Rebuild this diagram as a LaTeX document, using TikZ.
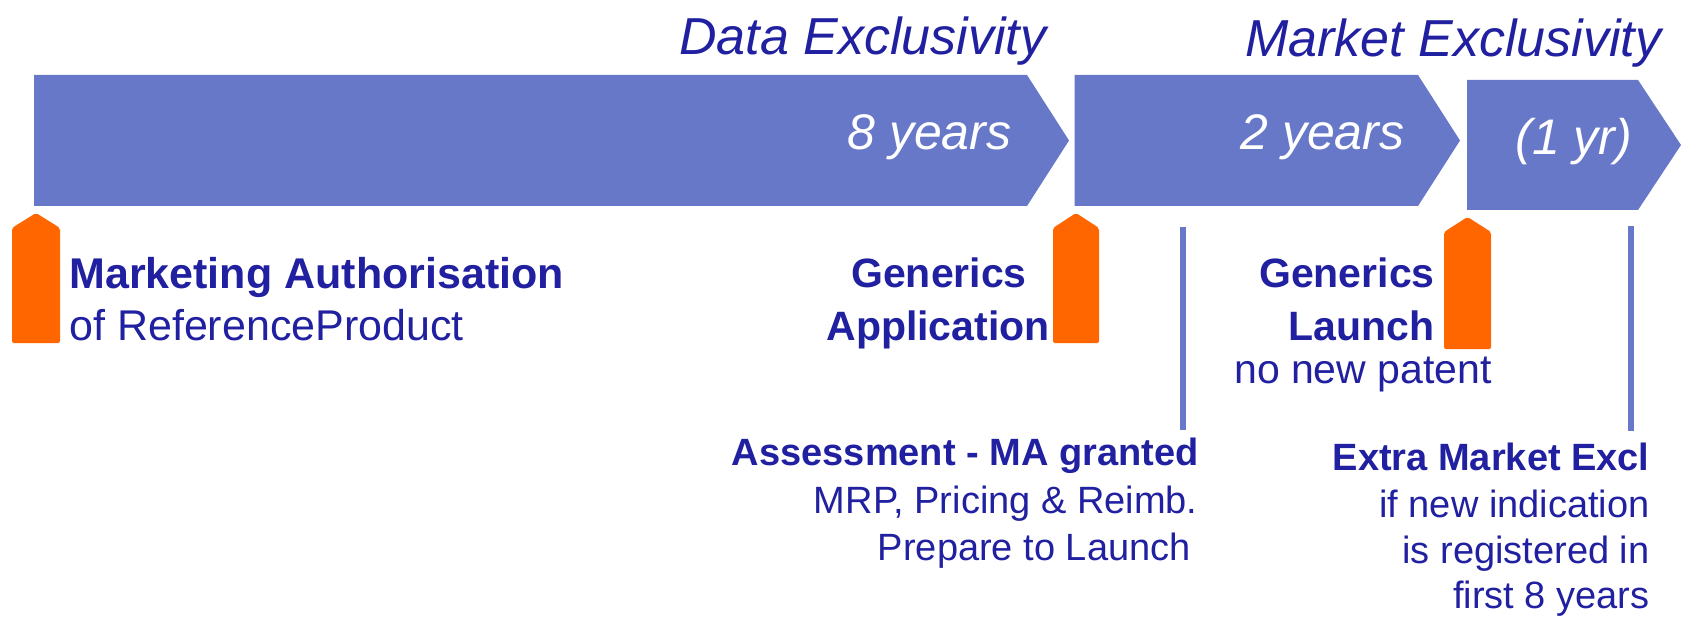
\documentclass[tikz,border=0pt]{standalone}
\usepackage{fontspec}
\setmainfont{Liberation Sans}
\definecolor{barblue}{RGB}{104,120,200}
\definecolor{txtblue}{RGB}{32,32,160}
\definecolor{mkorange}{RGB}{255,102,0}
\begin{document}
\begin{tikzpicture}[x=0.5pt,y=-0.5pt,
 bar/.style={fill=barblue,draw=none},
 marker/.style={fill=mkorange,draw=none,rounded corners=1pt},
 vline/.style={draw=barblue,line width=3pt},
 title/.style={font=\fontsize{26}{30}\selectfont\itshape,text=txtblue,inner sep=0pt},
 dur/.style={font=\fontsize{25}{30}\selectfont\itshape,text=white,inner sep=0pt},
 lblb/.style={font=\fontsize{20.5}{24}\selectfont\bfseries,text=txtblue,inner sep=0pt},
 lbl/.style={font=\fontsize{20.5}{24}\selectfont,text=txtblue,inner sep=0pt},
 mlblb/.style={font=\fontsize{21.5}{25}\selectfont\bfseries,text=txtblue,inner sep=0pt},
 mlbl/.style={font=\fontsize{21.5}{25}\selectfont,text=txtblue,inner sep=0pt},
 slblb/.style={font=\fontsize{19}{23}\selectfont\bfseries,text=txtblue,inner sep=0pt},
 slbl/.style={font=\fontsize{19}{23}\selectfont,text=txtblue,inner sep=0pt},
]
\useasboundingbox (0,0) rectangle (1685,620);
\fill[white] (0,0) rectangle (1685,620);

% bars
\fill[bar] (34,75) -- (1027,75) -- (1069,140.5) -- (1027,206) -- (34,206) -- cycle;
\fill[bar] (1074.5,75) -- (1418,75) -- (1460,140.5) -- (1418,206) -- (1074.5,206) -- cycle;
\fill[bar] (1467,80) -- (1638,80) -- (1681,145) -- (1638,210) -- (1467,210) -- cycle;

% markers
\fill[marker] (12,343) -- (12,228) -- (36,213) -- (60,228) -- (60,343) -- cycle;
\fill[marker] (1053,343) -- (1053,228) -- (1076,213) -- (1099,228) -- (1099,343) -- cycle;
\fill[marker] (1444,349) -- (1444,232) -- (1467.5,217) -- (1491,232) -- (1491,349) -- cycle;

% vertical lines
\coordinate (l1t) at (1183,227);
\coordinate (l1b) at (1183,430);
\coordinate (l2t) at (1631,226);
\coordinate (l2b) at (1631,431);
\draw[vline] (l1t) -- (l1b);
\draw[vline] (l2t) -- (l2b);

% titles
\node[title,anchor=base west] (de) at (679,55) {Data Exclusivity};
\node[title,anchor=base west] (me) at (1245,57) {Market Exclusivity};

% durations
\node[dur,anchor=base west] (d8) at (847,150) {8 years};
\node[dur,anchor=base west] (d2) at (1240,150) {2 years};
\node[dur,anchor=base west] (d1) at (1515,155) {(1 yr)};

% labels
\node[mlblb,anchor=base west] (ma1) at (69,288) {Marketing Authorisation};
\node[mlbl,anchor=base west] (ma2) at (69,340) {of ReferenceProduct};

\node[lblb,anchor=base] (ga1) at (939,287) {Generics};
\node[lblb,anchor=base] (ga2) at (938,340) {Application};

\node[lblb,anchor=base east] (gl1) at (1435,287) {Generics};
\node[lblb,anchor=base east] (gl2) at (1435,340) {Launch};
\node[lbl,anchor=base] (gl3) at (1363,383) {no new patent};

\node[slblb,anchor=base east] (as1) at (1199,465) {Assessment - MA granted};
\node[slbl,anchor=base east] (as2) at (1198,513) {MRP, Pricing \& Reimb.};
\node[slbl,anchor=base east] (as3) at (1191,560) {Prepare to Launch};

\node[slblb,anchor=base east] (ex1) at (1650,470) {Extra Market Excl};
\node[slbl,anchor=base east] (ex2) at (1650,517) {if new indication};
\node[slbl,anchor=base east] (ex3) at (1650,563) {is registered in};
\node[slbl,anchor=base east] (ex4) at (1650,608) {first 8 years};
\end{tikzpicture}
\end{document}
